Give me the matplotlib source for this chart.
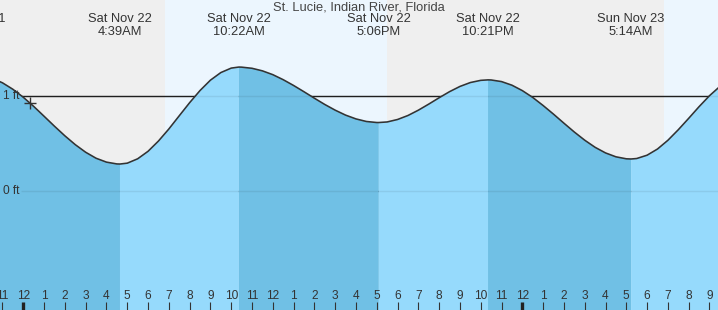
import numpy as np
import matplotlib
matplotlib.use("Agg")
import matplotlib.pyplot as plt

plt.rcParams['font.family'] = ['Liberation Sans', 'DejaVu Sans']

# ---- data (hours since midnight Sat Nov 22, feet) ----
times = [-1.5, -1.0, -0.5, 0.0, 0.5, 1.0, 1.5, 2.0, 2.5, 3.0, 3.5, 4.0, 4.5, 4.65,
         5.0, 5.5, 6.0, 6.5, 7.0, 7.5, 8.0, 8.5, 9.0, 9.5, 10.0, 10.37,
         10.5, 11.0, 11.5, 12.0, 12.5, 13.0, 13.5, 14.0, 14.5, 15.0, 15.5, 16.0, 16.5, 17.0, 17.1,
         17.5, 18.0, 18.5, 19.0, 19.5, 20.0, 20.5, 21.0, 21.5, 22.0, 22.35,
         22.5, 23.0, 23.5, 24.0, 24.5, 25.0, 25.5, 26.0, 26.5, 27.0, 27.5, 28.0, 28.5, 29.0, 29.23,
         29.5, 30.0, 30.5, 31.0, 31.5, 32.0, 32.5, 33.0, 33.5]
heights = [1.187, 1.139, 1.071, 0.987, 0.891, 0.787, 0.682, 0.581, 0.488, 0.408, 0.345, 0.304, 0.285, 0.284,
           0.293, 0.339, 0.418, 0.526, 0.653, 0.792, 0.930, 1.058, 1.167, 1.247, 1.294, 1.305,
           1.304, 1.292, 1.265, 1.225, 1.172, 1.111, 1.045, 0.977, 0.911, 0.851, 0.799, 0.759, 0.732, 0.721, 0.721,
           0.727, 0.753, 0.795, 0.851, 0.915, 0.982, 1.046, 1.101, 1.142, 1.165, 1.170,
           1.169, 1.152, 1.114, 1.057, 0.985, 0.900, 0.809, 0.714, 0.621, 0.535, 0.460, 0.401, 0.360, 0.339, 0.337,
           0.342, 0.377, 0.442, 0.534, 0.645, 0.765, 0.888, 1.003, 1.101]

ext_times = [-2.31, 4.65, 10.37, 17.10, 22.35, 29.23]
ext_days = ["Fri Nov 21", "Sat Nov 22", "Sat Nov 22", "Sat Nov 22", "Sat Nov 22", "Sun Nov 23"]
ext_clock = ["9:42PM", "4:39AM", "10:22AM", "5:06PM", "10:21PM", "5:14AM"]

night_spans = [(-3.0, 6.83), (17.47, 30.83)]
day_spans = [(6.83, 17.47), (30.83, 36.0)]

hour_ticks = list(range(-1, 34))
hour_labels = ["11", "12", "1", "2", "3", "4", "5", "6", "7", "8", "9", "10", "11",
               "12", "1", "2", "3", "4", "5", "6", "7", "8", "9", "10", "11",
               "12", "1", "2", "3", "4", "5", "6", "7", "8", "9"]
midnights = [0, 24]

now_time = 0.34
now_height = 0.93

title = "St. Lucie, Indian River, Florida"
ref_levels = [1, 0]
ref_labels = ["1 ft", "0 ft"]

# ---- figure ----
W, H = 718, 310
fig = plt.figure(figsize=(W / 100, H / 100), dpi=100)
ax = fig.add_axes([0, 0, 1, 1])
x0, x1 = -1.12, 33.41
y0, y1 = -1.253, 2.011
ax.set_xlim(x0, x1)
ax.set_ylim(y0, y1)
ax.axis('off')

def yfrac(py):
    return 1 - py / H

for a, b in night_spans:
    ax.axvspan(a, b, color='#efefef', lw=0, zorder=0)
for a, b in day_spans:
    ax.axvspan(a, b, color='#ecf6fe', lw=0, zorder=0)

# reference lines: solid under the water, faint trace on top of it
line_start = -0.1
for lvl in ref_levels:
    ax.plot([line_start, x1 + 1], [lvl, lvl], color='#222222', lw=1.0, zorder=1,
            solid_capstyle='butt')
    ax.plot([line_start, x1 + 1], [lvl, lvl], color=(0, 0, 0, 0.07), lw=1.0, zorder=2.5,
            solid_capstyle='butt')

t = np.array(times)
h = np.array(heights)
bounds = [t[0]] + [e for e in ext_times if t[0] < e < t[-1]] + [t[-1]]
for a, b in zip(bounds[:-1], bounds[1:]):
    m = (t >= a - 1e-9) & (t <= b + 1e-9)
    seg_t, seg_h = t[m], h[m]
    falling = seg_h[-1] < seg_h[0]
    col = '#70c0e5' if falling else '#96dafc'
    ax.fill_between(seg_t, seg_h, y0 - 1, color=col, lw=0, zorder=2)

ax.plot(t, h, color='#333333', lw=1.15, zorder=3)

ax.plot([now_time], [now_height], marker='+', ms=9, mew=1.0, color='#333333', zorder=4)

for lvl, lab in zip(ref_levels, ref_labels):
    ax.text(x0 + 3 / 20.79, lvl, lab, fontsize=8.6, color='#333333', va='center', ha='left', zorder=5)

# title and extreme labels
ax.text(0.5, yfrac(7), title, transform=ax.transAxes, ha='center', va='center',
        fontsize=9.3, color='#444444', zorder=6)
trans = ax.get_xaxis_transform()
for et, d, c in zip(ext_times, ext_days, ext_clock):
    ax.text(et, yfrac(19.5), d, transform=trans, ha='center', va='center', fontsize=9.3,
            color='#333333', clip_on=False, zorder=6)
    ax.text(et, yfrac(32), c, transform=trans, ha='center', va='center', fontsize=9.3,
            color='#333333', clip_on=False, zorder=6)

# hour axis
for ht, lab in zip(hour_ticks, hour_labels):
    ax.text(ht, yfrac(296), lab, transform=trans, ha='center', va='center', fontsize=8.6,
            color='#333333', zorder=6)
    if ht in midnights:
        ax.plot([ht, ht], [yfrac(302), yfrac(311)], transform=trans, color='#222222', lw=2.4,
                solid_capstyle='butt', zorder=6)
    else:
        ax.plot([ht, ht], [yfrac(302), yfrac(311)], transform=trans, color='#333333', lw=0.8,
                solid_capstyle='butt', zorder=6)

fig.savefig('out.png', dpi=100)
